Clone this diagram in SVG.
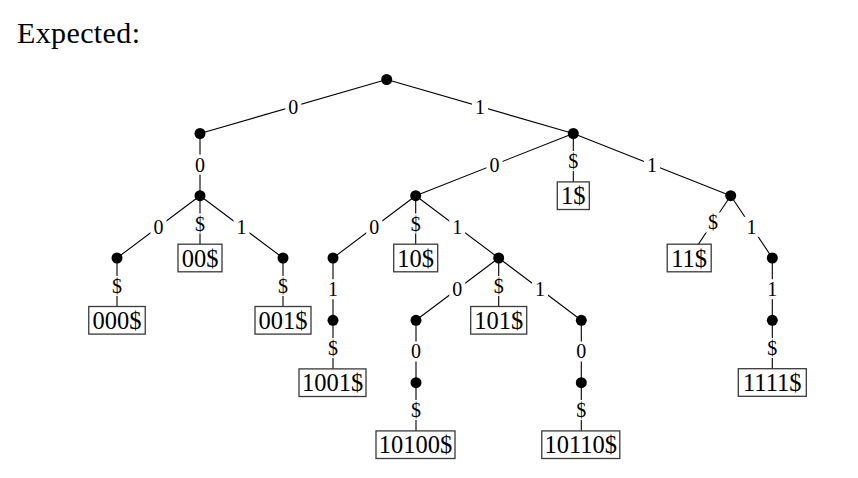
<svg xmlns="http://www.w3.org/2000/svg" width="858" height="478" viewBox="0 0 858 478">
<style>
.e{stroke:#000;stroke-width:1.1;fill:none}
.d{fill:#000}
.b{fill:#fff;stroke:#3a3a3a;stroke-width:1.3}
.bt{font-family:"Liberation Serif",serif;font-size:24.5px;text-anchor:middle;fill:#000}
.lb{fill:#fff}
.lt{font-family:"Liberation Serif",serif;font-size:20px;text-anchor:middle;fill:#000}
.title{font-family:"Liberation Serif",serif;font-size:30px;fill:#000}
</style>
<rect width="858" height="478" fill="#fff"/>
<text class="title" x="17" y="42.5" textLength="123">Expected:</text>

<g id="connectors">
  <path class="e" d="M386.7 79.5L200 133.5M386.7 79.5L573.3 133.5M200 133.5L200 195.7M200 195.7L117 258M200 195.7L200 258M200 195.7L283 258M117 258L117 320.3M283 258L283 320.3M573.3 133.5L415.7 195.7M573.3 133.5L573.3 195.7M573.3 133.5L730.7 195.7M415.7 195.7L333 258M415.7 195.7L415.7 258M415.7 195.7L498.7 258M730.7 195.7L689.2 258M730.7 195.7L772.3 258M333 258L333 382.7M498.7 258L416 320.3M498.7 258L498.7 320.3M498.7 258L581.3 320.3M772.3 258L772.3 382.5M416 320.3L416 444.7M581.3 320.3L581.3 444.7"/>
  <g class="lb">
    <rect x="285.3" y="97" width="16" height="20"/>
    <rect x="472" y="97" width="16" height="20"/>
    <rect x="192" y="154.6" width="16" height="20"/>
    <rect x="150.5" y="216.8" width="16" height="20"/>
    <rect x="192" y="213.5" width="16" height="20"/>
    <rect x="233.5" y="216.8" width="16" height="20"/>
    <rect x="109" y="276" width="16" height="20"/>
    <rect x="275" y="276" width="16" height="20"/>
    <rect x="486.5" y="154.6" width="16" height="20"/>
    <rect x="565.3" y="151" width="16" height="20"/>
    <rect x="644" y="154.6" width="16" height="20"/>
    <rect x="366.3" y="216.8" width="16" height="20"/>
    <rect x="407.7" y="213.5" width="16" height="20"/>
    <rect x="449.2" y="216.8" width="16" height="20"/>
    <rect x="705" y="212.5" width="16" height="20"/>
    <rect x="743.5" y="216.8" width="16" height="20"/>
    <rect x="325" y="279.2" width="16" height="20"/>
    <rect x="449.3" y="279.2" width="16" height="20"/>
    <rect x="490.7" y="276" width="16" height="20"/>
    <rect x="532" y="279.2" width="16" height="20"/>
    <rect x="764.3" y="279.2" width="16" height="20"/>
    <rect x="325" y="338" width="16" height="20"/>
    <rect x="408" y="341.5" width="16" height="20"/>
    <rect x="573.3" y="341.5" width="16" height="20"/>
    <rect x="764.3" y="338" width="16" height="20"/>
    <rect x="408" y="400" width="16" height="20"/>
    <rect x="573.3" y="400" width="16" height="20"/>
  </g>
  <g class="lt">
    <text x="293.3" y="113.8">0</text>
    <text x="480" y="113.8">1</text>
    <text x="200" y="171.5">0</text>
    <text x="158.5" y="233.7">0</text>
    <text x="200" y="230.5">$</text>
    <text x="241.5" y="233.7">1</text>
    <text x="117" y="292.6">$</text>
    <text x="283" y="292.6">$</text>
    <text x="494.5" y="171.5">0</text>
    <text x="573.3" y="167.6">$</text>
    <text x="652" y="171.5">1</text>
    <text x="374.3" y="233.7">0</text>
    <text x="415.7" y="230.5">$</text>
    <text x="457.2" y="233.7">1</text>
    <text x="713" y="229">$</text>
    <text x="751.5" y="233.7">1</text>
    <text x="333" y="296.2">1</text>
    <text x="457.3" y="296.2">0</text>
    <text x="498.7" y="292.6">$</text>
    <text x="540" y="296.2">1</text>
    <text x="772.3" y="296.2">1</text>
    <text x="333" y="354.6">$</text>
    <text x="416" y="358.4">0</text>
    <text x="581.3" y="358.4">0</text>
    <text x="772.3" y="354.6">$</text>
    <text x="416" y="416.6">$</text>
    <text x="581.3" y="416.6">$</text>
  </g>
</g>

<g id="node-root"><circle class="d" cx="386.7" cy="79.5" r="5.5"/></g>
<g id="node-0"><circle class="d" cx="200" cy="133.5" r="5.5"/></g>
<g id="node-1"><circle class="d" cx="573.3" cy="133.5" r="5.5"/></g>
<g id="node-00"><circle class="d" cx="200" cy="195.7" r="5.5"/></g>
<g id="node-10"><circle class="d" cx="415.7" cy="195.7" r="5.5"/></g>
<g id="node-11"><circle class="d" cx="730.7" cy="195.7" r="5.5"/></g>
<g id="node-000"><circle class="d" cx="117" cy="258" r="5.5"/></g>
<g id="node-001"><circle class="d" cx="283" cy="258" r="5.5"/></g>
<g id="node-100"><circle class="d" cx="333" cy="258" r="5.5"/></g>
<g id="node-101"><circle class="d" cx="498.7" cy="258" r="5.5"/></g>
<g id="node-111"><circle class="d" cx="772.3" cy="258" r="5.5"/></g>
<g id="node-1001"><circle class="d" cx="333" cy="320.3" r="5.5"/></g>
<g id="node-1010"><circle class="d" cx="416" cy="320.3" r="5.5"/></g>
<g id="node-1011"><circle class="d" cx="581.3" cy="320.3" r="5.5"/></g>
<g id="node-1111"><circle class="d" cx="772.3" cy="320.3" r="5.5"/></g>
<g id="node-10100"><circle class="d" cx="416" cy="382.7" r="5.5"/></g>
<g id="node-10110"><circle class="d" cx="581.3" cy="382.7" r="5.5"/></g>

<g id="leaf-000"><rect class="b" x="88.75" y="306.5" width="56.5" height="27.6"/><text class="bt" x="117" y="329">000$</text></g>
<g id="leaf-00"><rect class="b" x="178" y="244.2" width="44" height="27.6"/><text class="bt" x="200" y="266.7">00$</text></g>
<g id="leaf-001"><rect class="b" x="255" y="306.5" width="56" height="27.6"/><text class="bt" x="283" y="329">001$</text></g>
<g id="leaf-1"><rect class="b" x="557.3" y="181.9" width="32" height="27.6"/><text class="bt" x="573.3" y="204.4">1$</text></g>
<g id="leaf-10"><rect class="b" x="393.7" y="244.2" width="44" height="27.6"/><text class="bt" x="415.7" y="266.7">10$</text></g>
<g id="leaf-11"><rect class="b" x="667.2" y="244.2" width="44" height="27.6"/><text class="bt" x="689.2" y="266.7">11$</text></g>
<g id="leaf-101"><rect class="b" x="470.7" y="306.5" width="56" height="27.6"/><text class="bt" x="498.7" y="329">101$</text></g>
<g id="leaf-1001"><rect class="b" x="299" y="368.9" width="67" height="27.6"/><text class="bt" x="332.5" y="391.4">1001$</text></g>
<g id="leaf-10100"><rect class="b" x="376" y="430.9" width="79" height="27.6"/><text class="bt" x="415.5" y="453.4">10100$</text></g>
<g id="leaf-10110"><rect class="b" x="541.8" y="430.9" width="78" height="27.6"/><text class="bt" x="580.8" y="453.4">10110$</text></g>
<g id="leaf-1111"><rect class="b" x="738.3" y="368.7" width="68" height="27.6"/><text class="bt" x="772.3" y="391.2">1111$</text></g>
</svg>
